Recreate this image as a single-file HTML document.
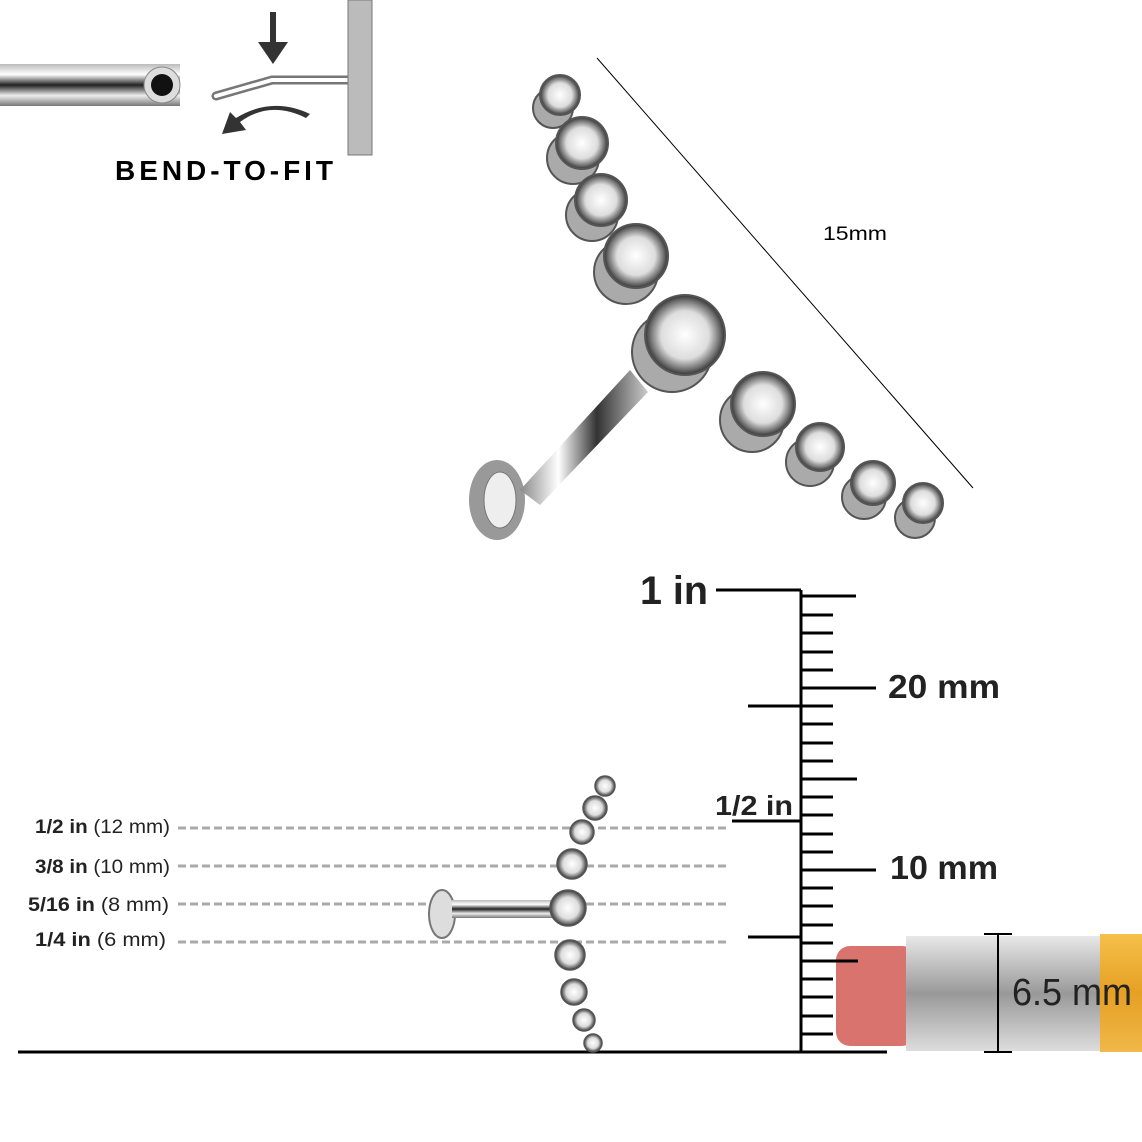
<!DOCTYPE html>
<html><head><meta charset="utf-8"><style>
body{margin:0;width:1142px;height:1142px;background:#fff;overflow:hidden;position:relative;font-family:"Liberation Sans",sans-serif}
</style></head><body>
<svg width="1142" height="1142" viewBox="0 0 1142 1142" xmlns="http://www.w3.org/2000/svg" style="position:absolute;left:0;top:0">
<defs>
<linearGradient id="rod" x1="0" y1="0" x2="0" y2="1">
<stop offset="0" stop-color="#bbb"/><stop offset="0.25" stop-color="#fff"/><stop offset="0.5" stop-color="#222"/><stop offset="0.75" stop-color="#eee"/><stop offset="1" stop-color="#777"/></linearGradient>
<linearGradient id="post" x1="0" y1="0" x2="1" y2="0">
<stop offset="0" stop-color="#888"/><stop offset="0.3" stop-color="#fff"/><stop offset="0.6" stop-color="#333"/><stop offset="1" stop-color="#ccc"/></linearGradient>
<radialGradient id="gem"><stop offset="0" stop-color="#fff"/><stop offset="0.6" stop-color="#ddd"/><stop offset="0.85" stop-color="#777"/><stop offset="1" stop-color="#333"/></radialGradient>
<linearGradient id="pencil" x1="0" y1="0" x2="0" y2="1"><stop offset="0" stop-color="#e8e8e8"/><stop offset="0.5" stop-color="#999"/><stop offset="1" stop-color="#ddd"/></linearGradient>
<linearGradient id="yel" x1="0" y1="0" x2="0" y2="1"><stop offset="0" stop-color="#f5c04a"/><stop offset="0.5" stop-color="#e6a024"/><stop offset="1" stop-color="#f0b848"/></linearGradient>
</defs>
<rect x="0" y="64" width="180" height="42" fill="url(#rod)"/>
<circle cx="162" cy="85" r="18" fill="#ddd" stroke="#888"/><circle cx="162" cy="85" r="11" fill="#111"/>
<path d="M270 12v30h-12l15 22 15-22h-12v-30z" fill="#333"/>
<path d="M216 96 L272 80 L348 80" stroke="#777" stroke-width="9" fill="none" stroke-linecap="round"/>
<path d="M216 96 L272 80 L348 80" stroke="#fff" stroke-width="4" fill="none" stroke-linecap="round"/>
<path d="M306 118 Q270 100 240 122 L246 130 L222 134 L230 112 L236 118 Q272 96 310 114z" fill="#333"/>
<rect x="348" y="0" width="24" height="155" fill="#bbb" stroke="#777"/>
<text x="115" y="180" font-size="28" font-weight="bold" textLength="218" lengthAdjust="spacing">BEND-TO-FIT</text>
<line x1="597" y1="58" x2="973" y2="488" stroke="#000" stroke-width="1"/>
<text x="823" y="240" font-size="19" textLength="64" lengthAdjust="spacingAndGlyphs">15mm</text>
<ellipse cx="497" cy="500" rx="28" ry="40" fill="#999"/><ellipse cx="500" cy="500" rx="16" ry="28" fill="#eee" stroke="#777"/>
<path d="M520 490 L630 370 L648 392 L540 505z" fill="url(#post)"/>
<g fill="#aaa" stroke="#555" stroke-width="2">
<circle cx="553" cy="108" r="20"/><circle cx="573" cy="158" r="26"/><circle cx="592" cy="215" r="26"/><circle cx="626" cy="272" r="32"/><circle cx="672" cy="352" r="40"/><circle cx="752" cy="420" r="32"/><circle cx="810" cy="462" r="24"/><circle cx="864" cy="497" r="22"/><circle cx="915" cy="518" r="20"/>
</g>
<g fill="url(#gem)" stroke="#555" stroke-width="2">
<circle cx="560" cy="95" r="20"/><circle cx="582" cy="143" r="26"/><circle cx="601" cy="200" r="26"/><circle cx="636" cy="256" r="32"/><circle cx="685" cy="335" r="40"/><circle cx="763" cy="404" r="32"/><circle cx="820" cy="447" r="24"/><circle cx="873" cy="483" r="22"/><circle cx="923" cy="503" r="20"/>
</g>
<g stroke="#000" stroke-width="3">
<line x1="801" y1="590" x2="801" y2="1052"/>
<line x1="716" y1="590" x2="801" y2="590"/>
<line x1="748" y1="706" x2="801" y2="706"/>
<line x1="732" y1="821" x2="801" y2="821"/>
<line x1="748" y1="937" x2="801" y2="937"/>
<line x1="18" y1="1052" x2="887" y2="1052"/>
<path d="M801 1034h32M801 1016h32M801 997h32M801 979h32M801 961h57M801 943h32M801 925h32M801 906h32M801 888h32M801 870h75M801 852h32M801 834h32M801 815h32M801 797h32M801 779h56M801 761h32M801 743h32M801 724h32M801 706h32M801 688h75M801 670h32M801 652h32M801 633h32M801 615h32M801 596h55"/>
</g>
<text x="640" y="604" font-size="40" font-weight="bold" fill="#222" textLength="68" lengthAdjust="spacingAndGlyphs">1 in</text>
<text x="888" y="698" font-size="33" font-weight="bold" fill="#222" textLength="112" lengthAdjust="spacingAndGlyphs">20 mm</text>
<text x="890" y="879" font-size="33" font-weight="bold" fill="#222" textLength="108" lengthAdjust="spacingAndGlyphs">10 mm</text>
<text x="715" y="815" font-size="28" font-weight="bold" fill="#222" textLength="78" lengthAdjust="spacingAndGlyphs">1/2 in</text>
<rect x="836" y="946" width="80" height="100" rx="14" fill="#d9736e"/>
<rect x="906" y="936" width="200" height="115" fill="url(#pencil)"/>
<rect x="1100" y="934" width="42" height="118" fill="url(#yel)"/>
<line x1="801" y1="961" x2="858" y2="961" stroke="#000" stroke-width="3"/>
<g stroke="#000" stroke-width="2"><line x1="998" y1="934" x2="998" y2="1052"/><line x1="984" y1="934" x2="1012" y2="934"/><line x1="984" y1="1052" x2="1012" y2="1052"/></g>
<text x="1012" y="1005" font-size="38" fill="#222" textLength="120" lengthAdjust="spacingAndGlyphs">6.5 mm</text>
<g stroke="#aaa" stroke-width="3" stroke-dasharray="8 4">
<line x1="178" y1="828" x2="728" y2="828"/><line x1="178" y1="866" x2="728" y2="866"/><line x1="178" y1="904" x2="728" y2="904"/><line x1="178" y1="942" x2="728" y2="942"/>
</g>
<g font-size="19" fill="#222">
<text x="35" y="833" textLength="135" lengthAdjust="spacingAndGlyphs"><tspan font-weight="bold">1/2 in</tspan> (12 mm)</text>
<text x="35" y="873" textLength="135" lengthAdjust="spacingAndGlyphs"><tspan font-weight="bold">3/8 in</tspan> (10 mm)</text>
<text x="28" y="911" textLength="141" lengthAdjust="spacingAndGlyphs"><tspan font-weight="bold">5/16 in</tspan>  (8 mm)</text>
<text x="35" y="946" textLength="131" lengthAdjust="spacingAndGlyphs"><tspan font-weight="bold">1/4 in</tspan>  (6 mm)</text>
</g>
<ellipse cx="442" cy="914" rx="13" ry="24" fill="#ddd" stroke="#777" stroke-width="2"/>
<rect x="452" y="900" width="100" height="18" fill="url(#rod)"/>
<g fill="url(#gem)" stroke="#555" stroke-width="1.5">
<circle cx="605" cy="786" r="10"/><circle cx="595" cy="808" r="12"/><circle cx="582" cy="832" r="12"/><circle cx="572" cy="864" r="15"/><circle cx="568" cy="908" r="18"/><circle cx="570" cy="955" r="15"/><circle cx="574" cy="992" r="13"/><circle cx="584" cy="1020" r="11"/><circle cx="593" cy="1043" r="9"/>
</g>
</svg>
</body></html>
